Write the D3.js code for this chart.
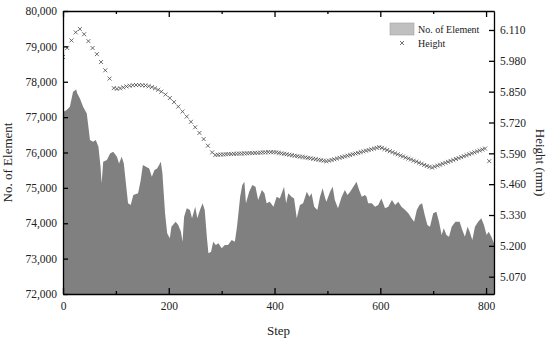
<!DOCTYPE html>
<html>
<head>
<meta charset="UTF-8">
<title>Elements and height</title>
<script src="https://cdnjs.cloudflare.com/ajax/libs/d3/7.8.5/d3.min.js"></script>
<style>
body {margin:0; background:#fff; font-family:"Liberation Serif", serif;}
.axis text {font-family:"Liberation Serif", serif; font-size:11.5px; fill:#222;}
.axis path, .axis line {stroke:#000; stroke-width:1.3;}
.lbl {font-family:"Liberation Serif", serif; font-size:13px; fill:#222;}
.leg {font-family:"Liberation Serif", serif; font-size:10px; fill:#222;}
</style>
</head>
<body>
<div id="chart"></div>
<script>
// No. of Element
var elemSteps = [1, 7, 13, 19, 25, 27, 32, 38, 45, 51, 57, 62, 67, 71, 73, 76, 83, 89, 95, 102,
  106, 111, 115, 119, 123, 128, 133, 142, 147, 151, 157, 163, 168, 173, 178, 185, 188, 193, 197, 202,
  205, 213, 218, 223, 226, 229, 234, 240, 244, 250, 254, 259, 264, 268, 272, 275, 280, 284, 289, 294,
  300, 306, 312, 319, 325, 329, 335, 339, 343, 346, 352, 358, 364, 369, 376, 381, 385, 391, 398, 404,
  410, 418, 422, 426, 432, 437, 442, 448, 454, 461, 466, 470, 475, 481, 486, 491, 495, 498, 505, 510,
  514, 520, 527, 533, 538, 543, 549, 555, 560, 565, 571, 574, 577, 584, 590, 596, 602, 609, 615, 622,
  628, 634, 640, 647, 653, 659, 664, 669, 674, 679, 684, 689, 694, 700, 706, 711, 716, 720, 725, 730,
  735, 742, 750, 755, 760, 765, 769, 774, 779, 785, 791, 796, 801, 805, 810, 815];
var elemCounts = [77150, 77198, 77291, 77715, 77783, 77670, 77528, 77291, 77105, 76350, 76302, 76350, 76161, 75596, 75127, 75737, 75785, 75975, 76020, 75879,
  75692, 75879, 75692, 75127, 74562, 74514, 74797, 74845, 75220, 75644, 75596, 75551, 75314, 75503, 75551, 75737, 75410, 74280, 73715, 73573,
  73901, 74042, 73949, 73760, 73477, 74184, 74421, 74373, 74138, 74466, 74138, 74373, 74562, 74373, 73619, 73150, 73195, 73477, 73384, 73432,
  73291, 73384, 73384, 73525, 73477, 73901, 74749, 75079, 75172, 74562, 74890, 75079, 75031, 74655, 74938, 74845, 74562, 74607, 74466, 74749,
  74703, 75031, 74562, 74845, 74749, 74703, 74138, 74514, 74562, 74890, 74749, 74845, 74466, 74373, 74749, 74986, 74749, 74607, 74890, 75031,
  74655, 74421, 74749, 74938, 74797, 74890, 75031, 75172, 74938, 74749, 74797, 74749, 74562, 74562, 74466, 74514, 74703, 74421, 74466, 74655,
  74514, 74607, 74466, 74373, 74280, 74138, 74042, 74373, 74514, 74562, 74232, 73949, 73901, 74280, 74325, 74042, 73667, 73856, 73667, 73619,
  73901, 74042, 74042, 73808, 73619, 73901, 73760, 73525, 73901, 74042, 74138, 73949, 73667, 73760, 73619, 73432];

// Height (mm)
var hSteps = [0, 8, 16, 24, 32, 40, 48, 56, 64, 72, 80, 88,
  96, 102, 108, 114, 120, 126, 132, 138, 144, 150, 156, 162, 168, 174, 180,
  186, 194, 202, 210, 218, 226, 234, 242, 250, 258, 266, 274, 282,
  288, 293, 298, 303, 308, 313, 318, 323, 328, 333, 338, 343, 348, 353, 358, 363, 368, 373, 378, 383, 388, 393, 398,
  403, 408, 413, 418, 423, 428, 433, 438, 443, 448, 453, 458, 463, 468, 473, 478, 483, 488, 493, 498,
  503, 508, 513, 518, 523, 528, 533, 538, 543, 548, 553, 558, 563, 568, 573, 578, 583, 588, 593, 598,
  603, 608, 613, 618, 623, 628, 633, 638, 643, 648, 653, 658, 663, 668, 673, 678, 683, 688, 693, 698,
  703, 708, 713, 718, 723, 728, 733, 738, 743, 748, 753, 758, 763, 768, 773, 778, 783, 788, 793, 798,
  806];
var hValues = [5.996, 6.034, 6.066, 6.100, 6.114, 6.092, 6.063, 6.034, 6.008, 5.975, 5.940, 5.905,
  5.865, 5.862, 5.864, 5.868, 5.872, 5.875, 5.877, 5.878, 5.878, 5.877, 5.876, 5.873, 5.869, 5.864, 5.858,
  5.850, 5.838, 5.823, 5.806, 5.787, 5.766, 5.745, 5.723, 5.700, 5.676, 5.650, 5.622, 5.594,
  5.583, 5.584, 5.585, 5.585, 5.586, 5.587, 5.587, 5.588, 5.588, 5.589, 5.589, 5.590, 5.590, 5.591, 5.591, 5.592, 5.592, 5.593, 5.594, 5.594, 5.595, 5.595, 5.595,
  5.594, 5.592, 5.590, 5.588, 5.586, 5.584, 5.582, 5.580, 5.578, 5.576, 5.575, 5.573, 5.571, 5.569, 5.567, 5.565, 5.563, 5.561, 5.559, 5.557,
  5.559, 5.562, 5.565, 5.568, 5.571, 5.574, 5.577, 5.580, 5.583, 5.586, 5.589, 5.592, 5.595, 5.598, 5.601, 5.604, 5.607, 5.610, 5.613, 5.616,
  5.613, 5.608, 5.604, 5.599, 5.595, 5.590, 5.586, 5.581, 5.577, 5.572, 5.568, 5.564, 5.559, 5.555, 5.550, 5.546, 5.541, 5.537, 5.533, 5.530,
  5.534, 5.538, 5.542, 5.546, 5.550, 5.554, 5.558, 5.562, 5.566, 5.570, 5.574, 5.578, 5.582, 5.586, 5.590, 5.594, 5.598, 5.602, 5.606, 5.610,
  5.557];

var xMajor = [0, 200, 400, 600, 800];
var xMinor = [100, 300, 500, 700];
var yLeftTicks = [72000, 73000, 74000, 75000, 76000, 77000, 78000, 79000, 80000];
var yRightTicks = [5.070, 5.200, 5.330, 5.460, 5.590, 5.720, 5.850, 5.980, 6.110];

var W = 550, H = 344;
var m = {top: 11, right: 56, bottom: 50, left: 63};
var w = W - m.left - m.right;
var h = H - m.top - m.bottom;

var svg = d3.select("#chart").append("svg")
  .attr("width", W).attr("height", H);

svg.append("defs").append("clipPath").attr("id", "clip")
  .append("rect").attr("width", w).attr("height", h);

var g = svg.append("g").attr("transform", "translate(" + m.left + "," + m.top + ")");

var x = d3.scaleLinear().domain([0, 815]).range([0, w]);
var yL = d3.scaleLinear().domain([72000, 80000]).range([h, 0]);
var yR = d3.scaleLinear().domain([4.997, 6.19]).range([h, 0]);

var elemData = elemSteps.map(function(s, i) { return {s: s, v: elemCounts[i]}; });
var hData = hSteps.map(function(s, i) { return {s: s, v: hValues[i]}; });

var plot = g.append("g").attr("clip-path", "url(#clip)");

// gray area for element count
var area = d3.area()
  .x(function(d) { return x(d.s); })
  .y0(yL(72000))
  .y1(function(d) { return yL(d.v); });

plot.append("path")
  .datum(elemData)
  .attr("d", area)
  .style("fill", "#808080");

// x markers for height
var cross = d3.symbol().type(d3.symbolX).size(12);
plot.selectAll(".hm")
  .data(hData)
  .enter()
  .append("path")
  .attr("class", "hm")
  .attr("d", cross)
  .attr("transform", function(d) { return "translate(" + x(d.s) + "," + yR(d.v) + ")"; })
  .style("fill", "none")
  .style("stroke", "#4a4a4a")
  .style("stroke-width", 0.8);

// axes, all ticks pointing inward
g.append("g").attr("class", "axis")
  .attr("transform", "translate(0," + h + ")")
  .call(d3.axisBottom(x).tickValues(xMajor).tickSize(-6).tickSizeOuter(0).tickPadding(8));
g.append("g").attr("class", "axis")
  .attr("transform", "translate(0," + h + ")")
  .call(d3.axisBottom(x).tickValues(xMinor).tickSize(-3).tickFormat(""))
  .select(".domain").remove();
g.append("g").attr("class", "axis")
  .call(d3.axisTop(x).tickValues(xMajor).tickSize(-6).tickSizeOuter(0).tickFormat(""));
g.append("g").attr("class", "axis")
  .call(d3.axisTop(x).tickValues(xMinor).tickSize(-3).tickFormat(""))
  .select(".domain").remove();

g.append("g").attr("class", "axis")
  .call(d3.axisLeft(yL).tickValues(yLeftTicks).tickSize(-5).tickSizeOuter(0)
    .tickPadding(6).tickFormat(d3.format(",")));
g.append("g").attr("class", "axis")
  .attr("transform", "translate(" + w + ",0)")
  .call(d3.axisRight(yR).tickValues(yRightTicks).tickSize(-5).tickSizeOuter(0)
    .tickPadding(6).tickFormat(d3.format(".3f")));

// axis titles
svg.append("text").attr("class", "lbl")
  .attr("x", m.left + w / 2).attr("y", 335)
  .attr("text-anchor", "middle").text("Step");
svg.append("text").attr("class", "lbl")
  .attr("transform", "translate(12," + (m.top + h / 2 + 10) + ") rotate(-90)")
  .attr("text-anchor", "middle").text("No. of Element");
svg.append("text").attr("class", "lbl")
  .attr("transform", "translate(536," + (m.top + h / 2 + 10) + ") rotate(90)")
  .attr("text-anchor", "middle").text("Height (mm)");

// legend
var leg = svg.append("g").attr("transform", "translate(390,23)");
leg.append("rect").attr("width", 24).attr("height", 12)
  .style("fill", "#c0c0c0").style("stroke", "#a0a0a0").style("stroke-width", 0.6);
leg.append("text").attr("class", "leg").attr("x", 28).attr("y", 10).text("No. of Element");
leg.append("path").attr("d", cross)
  .attr("transform", "translate(12,20)")
  .style("fill", "none").style("stroke", "#4a4a4a").style("stroke-width", 0.8);
leg.append("text").attr("class", "leg").attr("x", 28).attr("y", 24).text("Height");
</script>
</body>
</html>
